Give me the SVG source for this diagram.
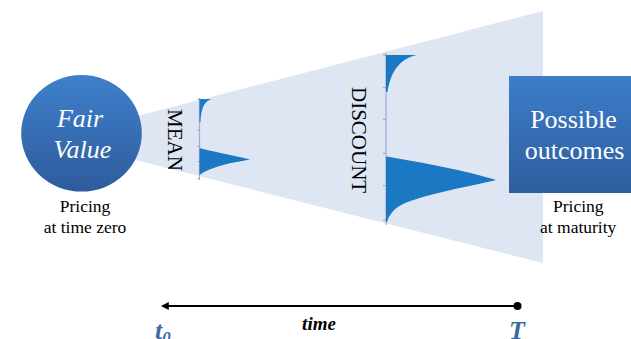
<svg xmlns="http://www.w3.org/2000/svg" width="631" height="339" viewBox="0 0 631 339">
<defs>
<linearGradient id="gCirc" x1="0" y1="0" x2="0" y2="1">
<stop offset="0" stop-color="#3f80cc"/>
<stop offset="1" stop-color="#2e5c9c"/>
</linearGradient>
<linearGradient id="gBox" x1="0" y1="0" x2="0" y2="1">
<stop offset="0" stop-color="#3d7dca"/>
<stop offset="1" stop-color="#2e5e9e"/>
</linearGradient>
<marker id="arr" viewBox="0 0 10 10" refX="1" refY="5" markerWidth="4" markerHeight="4" orient="auto-start-reverse" markerUnits="strokeWidth">
<path d="M0,0 L10,5 L0,10 Z" fill="#000"/>
</marker>
<style>
.serif{font-family:"Liberation Serif","Times New Roman",serif;}
.cap{font-size:17.5px;fill:#000;text-anchor:middle;}
.big{font-size:26px;fill:#fff;text-anchor:middle;}
.dist{fill:#1b78c3;}
.axis{stroke:#a3a9d6;stroke-width:1.2;}
.tick{stroke:#9aa0b8;stroke-width:1;}
.rot{font-size:21px;fill:#000;}
.tl{font-size:26px;font-weight:bold;font-style:italic;fill:#3d6aa0;}
</style>
</defs>

<g id="cone">
<polygon points="120,120.6 543,11 543,263 120,156" fill="#dde6f2"/>
</g>

<g id="mean-dist">
<line class="axis" x1="199.5" y1="98" x2="199.5" y2="180"/>
<g class="tick">
<line x1="197.5" y1="99.5" x2="199.5" y2="99.5"/>
<line x1="197.5" y1="130" x2="199.5" y2="130"/>
<line x1="197.5" y1="146.5" x2="199.5" y2="146.5"/>
<line x1="197.5" y1="161.5" x2="199.5" y2="161.5"/>
<line x1="197.5" y1="178.5" x2="199.5" y2="178.5"/>
</g>
<path class="dist" d="M199.5,99 L212,99.3 C205,101 201.5,106 200.5,122 L199.5,122 Z"/>
<path class="dist" d="M199.5,148 C210,151 232,155 250,159.5 C233,162.5 212,166 199.5,175 Z"/>
</g>

<g id="discount-dist">
<line class="axis" x1="386" y1="53" x2="386" y2="225"/>
<g class="tick">
<line x1="383" y1="55" x2="386" y2="55"/>
<line x1="383" y1="87.7" x2="386" y2="87.7"/>
<line x1="383" y1="119.3" x2="386" y2="119.3"/>
<line x1="383" y1="153.3" x2="386" y2="153.3"/>
<line x1="383" y1="185.7" x2="386" y2="185.7"/>
<line x1="383" y1="220" x2="386" y2="220"/>
</g>
<path class="dist" d="M386,55 L416.5,55 C403,58 391,68 387.5,92 L386,92 Z"/>
<path class="dist" d="M386,156.5 C420,162 468,171 496,180 C472,186 430,193 405,203 C394,208 389,215 387,222 L386,222 Z"/>
</g>

<g id="fair-value">
<ellipse cx="81.5" cy="133.3" rx="60.3" ry="58.3" fill="url(#gCirc)"/>
<text class="serif big" x="80" y="126.7" font-style="italic">Fair</text>
<text class="serif big" x="82.5" y="158.3" font-style="italic">Value</text>
</g>

<g id="pricing-zero">
<text class="serif cap" x="85" y="211.7">Pricing</text>
<text class="serif cap" x="85" y="233.3">at time zero</text>
</g>

<g id="mean-label">
<text class="serif rot" transform="translate(168,109) rotate(90)">MEAN</text>
</g>

<g id="discount-label">
<text class="serif rot" transform="translate(352,87) rotate(90)">DISCOUNT</text>
</g>

<g id="possible-outcomes">
<rect x="509" y="76" width="122" height="117" fill="url(#gBox)"/>
<text class="serif big" x="573.5" y="128.3">Possible</text>
<text class="serif big" x="574.5" y="159.3">outcomes</text>
</g>

<g id="pricing-maturity">
<text class="serif cap" x="578.3" y="211.7">Pricing</text>
<text class="serif cap" x="578.2" y="233.3">at maturity</text>
</g>

<g id="connectors">
<line x1="517.5" y1="306" x2="168" y2="306" stroke="#000" stroke-width="2" marker-end="url(#arr)"/>
<circle cx="517.5" cy="306" r="4" fill="#000"/>
</g>

<g id="time-labels">
<text class="serif" x="319" y="330" font-size="19" font-weight="bold" font-style="italic" text-anchor="middle">time</text>
<text class="serif tl" x="155" y="339">t<tspan font-size="17" dy="4">0</tspan></text>
<text class="serif tl" x="509" y="339">T</text>
</g>
</svg>
